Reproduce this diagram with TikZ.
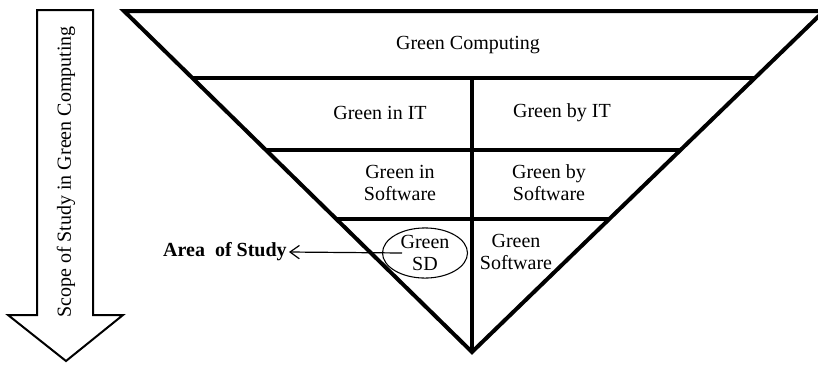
\documentclass[tikz,border=0pt]{standalone}
\usepackage{fontspec}
\setmainfont{Liberation Serif}
\usetikzlibrary{calc,shapes.geometric,arrows.meta}

\begin{document}
\begin{tikzpicture}[
    x=0.75pt, y=-0.75pt,
    font=\fontsize{15}{16.5}\selectfont,
    thickline/.style={line width=3pt},
    txt/.style={align=center, inner sep=0pt},
    oval/.style={draw, ellipse, line width=0.8pt, minimum width=63.75pt, minimum height=36pt, align=center, inner sep=0pt}
]
    \useasboundingbox (0,0) rectangle (818,365);

    % --- Scope arrow on the left ---
    \draw[line width=1.5pt] (37,10) -- (93,10) -- (93,315) -- (123,315) -- (66,361) -- (8,315) -- (37,315) -- cycle;
    \node[txt, rotate=90] (scope) at (66,172) {Scope of Study in Green Computing};

    % --- Inverted triangle ---
    \coordinate (tl) at (124,11);
    \coordinate (tr) at (824,11);
    \coordinate (apex) at (472,352);
    \draw[thickline] (tl) -- (tr) -- (apex) -- cycle;

    % --- Layer lines ---
    \foreach \t in {0.196, 0.408, 0.61} {
        \draw[thickline] ($(tl)!\t!(apex)$) -- ($(tr)!\t!(apex)$);
    }
    \draw[thickline] (472,78) -- (apex);

    % --- Layer labels ---
    \node[txt] (gc) at (468,45) {Green Computing};
    \node[txt] (gin) at (380,113) {Green in IT};
    \node[txt] (gby) at (562,113) {Green by IT};
    \node[txt] (ginsw) at (400,183) {Green in\\Software};
    \node[txt] (gbysw) at (549,183) {Green by\\Software};
    \node[oval] (gsd) at (425,253) {Green\\SD};
    \node[txt] (gsw) at (516,252) {Green\\Software};

    % --- Area of study pointer ---
    \node[txt, anchor=east, font=\fontsize{15}{16.5}\selectfont\bfseries] (area) at (287,252) {Area~~of Study};
    \draw[-{Straight Barb[length=7pt,width=10pt]}, line width=0.9pt] ([xshift=-17.25pt]gsd.center) -- ([xshift=1.5pt]area.east);

\end{tikzpicture}
\end{document}
